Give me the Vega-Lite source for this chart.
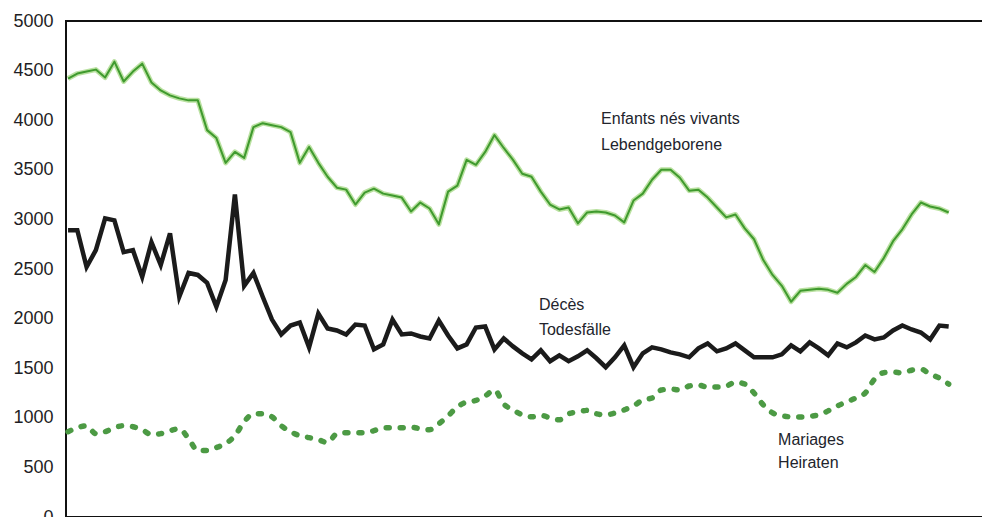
{
  "$schema": "https://vega.github.io/schema/vega-lite/v6.json",
  "autosize": "none",
  "width": 918,
  "height": 496,
  "padding": {"left": 66, "top": 21, "right": 0, "bottom": 0},
  "background": "white",
  "config": {
    "view": {"stroke": "#111111", "strokeWidth": 2},
    "font": "Liberation Sans"
  },
  "datasets": {
    "series": [
      {"year":1900,"births":4420,"deaths":2890,"marriages":860},
      {"year":1901,"births":4470,"deaths":2890,"marriages":900},
      {"year":1902,"births":4490,"deaths":2520,"marriages":920},
      {"year":1903,"births":4510,"deaths":2690,"marriages":840},
      {"year":1904,"births":4430,"deaths":3010,"marriages":860},
      {"year":1905,"births":4590,"deaths":2990,"marriages":900},
      {"year":1906,"births":4390,"deaths":2670,"marriages":920},
      {"year":1907,"births":4490,"deaths":2690,"marriages":910},
      {"year":1908,"births":4570,"deaths":2420,"marriages":880},
      {"year":1909,"births":4380,"deaths":2770,"marriages":830},
      {"year":1910,"births":4300,"deaths":2540,"marriages":840},
      {"year":1911,"births":4250,"deaths":2860,"marriages":870},
      {"year":1912,"births":4220,"deaths":2220,"marriages":890},
      {"year":1913,"births":4200,"deaths":2460,"marriages":790},
      {"year":1914,"births":4200,"deaths":2440,"marriages":670},
      {"year":1915,"births":3900,"deaths":2360,"marriages":670},
      {"year":1916,"births":3820,"deaths":2120,"marriages":700},
      {"year":1917,"births":3570,"deaths":2390,"marriages":740},
      {"year":1918,"births":3680,"deaths":3250,"marriages":820},
      {"year":1919,"births":3620,"deaths":2330,"marriages":960},
      {"year":1920,"births":3930,"deaths":2460,"marriages":1040},
      {"year":1921,"births":3970,"deaths":2220,"marriages":1040},
      {"year":1922,"births":3950,"deaths":1990,"marriages":1010},
      {"year":1923,"births":3930,"deaths":1840,"marriages":920},
      {"year":1924,"births":3880,"deaths":1930,"marriages":860},
      {"year":1925,"births":3570,"deaths":1960,"marriages":820},
      {"year":1926,"births":3730,"deaths":1710,"marriages":800},
      {"year":1927,"births":3570,"deaths":2050,"marriages":780},
      {"year":1928,"births":3430,"deaths":1900,"marriages":750},
      {"year":1929,"births":3320,"deaths":1880,"marriages":840},
      {"year":1930,"births":3300,"deaths":1840,"marriages":850},
      {"year":1931,"births":3150,"deaths":1940,"marriages":850},
      {"year":1932,"births":3270,"deaths":1930,"marriages":850},
      {"year":1933,"births":3310,"deaths":1690,"marriages":870},
      {"year":1934,"births":3260,"deaths":1740,"marriages":900},
      {"year":1935,"births":3240,"deaths":1990,"marriages":900},
      {"year":1936,"births":3220,"deaths":1840,"marriages":900},
      {"year":1937,"births":3080,"deaths":1850,"marriages":905},
      {"year":1938,"births":3170,"deaths":1820,"marriages":890},
      {"year":1939,"births":3110,"deaths":1800,"marriages":880},
      {"year":1940,"births":2950,"deaths":1980,"marriages":940},
      {"year":1941,"births":3280,"deaths":1830,"marriages":1020},
      {"year":1942,"births":3340,"deaths":1700,"marriages":1110},
      {"year":1943,"births":3600,"deaths":1740,"marriages":1160},
      {"year":1944,"births":3550,"deaths":1910,"marriages":1175},
      {"year":1945,"births":3680,"deaths":1920,"marriages":1220},
      {"year":1946,"births":3850,"deaths":1690,"marriages":1280},
      {"year":1947,"births":3720,"deaths":1800,"marriages":1140},
      {"year":1948,"births":3600,"deaths":1720,"marriages":1080},
      {"year":1949,"births":3460,"deaths":1650,"marriages":1030},
      {"year":1950,"births":3430,"deaths":1590,"marriages":1010},
      {"year":1951,"births":3280,"deaths":1680,"marriages":1025},
      {"year":1952,"births":3150,"deaths":1570,"marriages":1000},
      {"year":1953,"births":3100,"deaths":1630,"marriages":980},
      {"year":1954,"births":3120,"deaths":1570,"marriages":1040},
      {"year":1955,"births":2960,"deaths":1620,"marriages":1060},
      {"year":1956,"births":3070,"deaths":1680,"marriages":1075},
      {"year":1957,"births":3080,"deaths":1600,"marriages":1040},
      {"year":1958,"births":3070,"deaths":1510,"marriages":1030},
      {"year":1959,"births":3040,"deaths":1610,"marriages":1048},
      {"year":1960,"births":2970,"deaths":1730,"marriages":1080},
      {"year":1961,"births":3190,"deaths":1510,"marriages":1120},
      {"year":1962,"births":3260,"deaths":1650,"marriages":1180},
      {"year":1963,"births":3400,"deaths":1710,"marriages":1200},
      {"year":1964,"births":3500,"deaths":1690,"marriages":1280},
      {"year":1965,"births":3500,"deaths":1660,"marriages":1290},
      {"year":1966,"births":3420,"deaths":1640,"marriages":1280},
      {"year":1967,"births":3290,"deaths":1610,"marriages":1320},
      {"year":1968,"births":3300,"deaths":1700,"marriages":1330},
      {"year":1969,"births":3220,"deaths":1750,"marriages":1310},
      {"year":1970,"births":3120,"deaths":1670,"marriages":1310},
      {"year":1971,"births":3020,"deaths":1700,"marriages":1320},
      {"year":1972,"births":3050,"deaths":1750,"marriages":1360},
      {"year":1973,"births":2910,"deaths":1680,"marriages":1340},
      {"year":1974,"births":2800,"deaths":1610,"marriages":1250},
      {"year":1975,"births":2590,"deaths":1610,"marriages":1130},
      {"year":1976,"births":2440,"deaths":1610,"marriages":1050},
      {"year":1977,"births":2330,"deaths":1640,"marriages":1020},
      {"year":1978,"births":2170,"deaths":1730,"marriages":1010},
      {"year":1979,"births":2280,"deaths":1670,"marriages":1008},
      {"year":1980,"births":2290,"deaths":1760,"marriages":1015},
      {"year":1981,"births":2300,"deaths":1700,"marriages":1030},
      {"year":1982,"births":2290,"deaths":1630,"marriages":1070},
      {"year":1983,"births":2260,"deaths":1750,"marriages":1120},
      {"year":1984,"births":2350,"deaths":1710,"marriages":1160},
      {"year":1985,"births":2420,"deaths":1760,"marriages":1200},
      {"year":1986,"births":2540,"deaths":1830,"marriages":1250},
      {"year":1987,"births":2470,"deaths":1790,"marriages":1390},
      {"year":1988,"births":2610,"deaths":1810,"marriages":1455},
      {"year":1989,"births":2780,"deaths":1880,"marriages":1460},
      {"year":1990,"births":2900,"deaths":1930,"marriages":1452},
      {"year":1991,"births":3050,"deaths":1890,"marriages":1480},
      {"year":1992,"births":3170,"deaths":1860,"marriages":1490},
      {"year":1993,"births":3130,"deaths":1790,"marriages":1440},
      {"year":1994,"births":3110,"deaths":1930,"marriages":1400},
      {"year":1995,"births":3070,"deaths":1920,"marriages":1340}
    ],
    "labels": [
      {"text":"Enfants nés vivants","year":1957.5,"value":4012},
      {"text":"Lebendgeborene","year":1957.5,"value":3750},
      {"text":"Décès","year":1950.8,"value":2137},
      {"text":"Todesfälle","year":1950.8,"value":1885},
      {"text":"Mariages","year":1976.6,"value":776},
      {"text":"Heiraten","year":1976.6,"value":544}
    ]
  },
  "encoding": {
    "x": {"field": "year", "type": "quantitative", "axis": null,
          "scale": {"domain": [1899.78, 1998.81], "nice": false, "zero": false}},
    "y": {"type": "quantitative",
          "scale": {"domain": [0, 5000], "nice": false},
          "axis": {"values": [0,500,1000,1500,2000,2500,3000,3500,4000,4500,5000],
                   "format": "d",
                   "title": null, "grid": false, "ticks": false, "domain": false,
                   "labelFont": "Liberation Sans", "labelFontSize": 18,
                   "labelColor": "#1e1e24", "labelPadding": 13}}
  },
  "layer": [
    {"data": {"name": "series"},
     "mark": {"type": "line", "color": "#a9d98a", "strokeWidth": 5, "opacity": 0.8, "strokeJoin": "round"},
     "encoding": {"y": {"field": "births"}}},
    {"data": {"name": "series"},
     "mark": {"type": "line", "color": "#3f9a2e", "strokeWidth": 2, "strokeJoin": "round"},
     "encoding": {"y": {"field": "births"}}},
    {"data": {"name": "series"},
     "mark": {"type": "line", "color": "#1b1b1b", "strokeWidth": 4.5, "strokeJoin": "miter"},
     "encoding": {"y": {"field": "deaths"}}},
    {"data": {"name": "series"},
     "mark": {"type": "line", "color": "#4c9a44", "strokeWidth": 5.5, "strokeDash": [3, 11], "strokeCap": "round", "interpolate": "monotone"},
     "encoding": {"y": {"field": "marriages"}}},
    {"data": {"name": "labels"},
     "mark": {"type": "text", "align": "left", "baseline": "middle", "font": "Liberation Sans", "fontSize": 16, "color": "#22242c"},
     "encoding": {"y": {"field": "value"}, "text": {"field": "text"}}}
  ]
}
